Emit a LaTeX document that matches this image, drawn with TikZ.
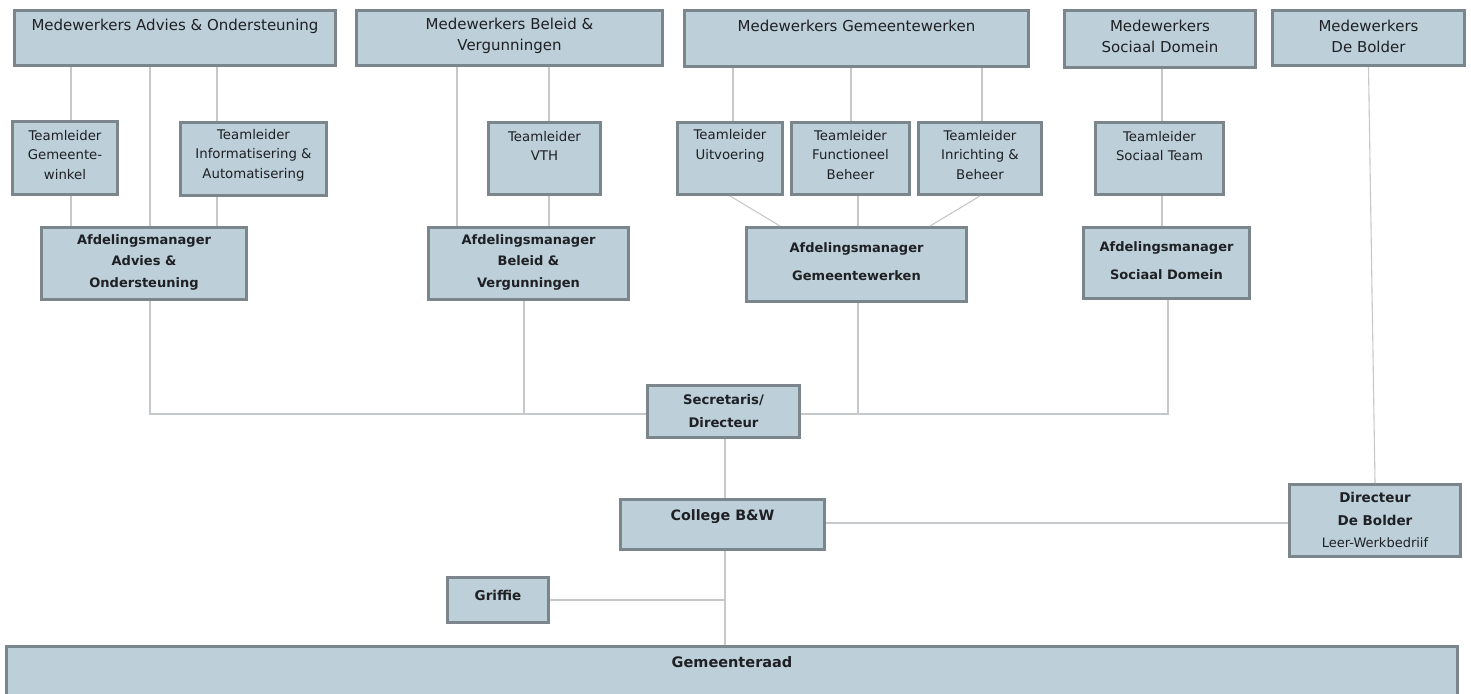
\documentclass[tikz,border=0pt]{standalone}
\usepackage{fontspec}
\setmainfont{DejaVu Sans}

\definecolor{boxfill}{RGB}{189,207,216}
\definecolor{boxedge}{RGB}{122,134,140}
\definecolor{linkgrey}{RGB}{198,201,204}
\definecolor{ink}{RGB}{30,32,36}

\tikzset{
  orgbox/.style={draw=boxedge, line width=2.8pt, fill=boxfill, rectangle, inner sep=0pt},
  lbl/.style={align=center, text=ink, inner sep=0pt},
  hdr/.style={lbl, font=\fontsize{15}{21}\selectfont},
  team/.style={lbl, font=\fontsize{13.3}{19.5}\selectfont},
  mgr/.style={lbl, font=\bfseries\fontsize{13}{21.5}\selectfont},
  mgrwide/.style={lbl, font=\bfseries\fontsize{13}{28}\selectfont},
  top/.style={lbl, font=\bfseries\fontsize{13.2}{23}\selectfont},
  link/.style={draw=linkgrey, line width=1.1pt},
}

% #1 name, #2-#5 outer corners (x1,y1,x2,y2), #6 text centre y, #7 text style, #8 text
\newcommand\placebox[8]{%
  \node[orgbox, minimum width={(#4-#2-2.8)*1pt}, minimum height={(#5-#3-2.8)*1pt}]
    (#1) at ({(#2+#4)/2},{(#3+#5)/2}) {};
  \node[#7] (#1-txt) at ({(#2+#4)/2},#6) {#8};
}

\begin{document}
\begin{tikzpicture}[x=1pt, y=-1pt]
\clip (0,0) rectangle (1471,693);
\fill[white] (0,0) rectangle (1471,693);

% ---- staff departments
\placebox{mao}{13}{9}{337}{67}{26}{hdr}{Medewerkers Advies \& Ondersteuning}
\placebox{mbv}{355}{9}{664}{67}{36}{hdr}{Medewerkers Beleid \&\\Vergunningen}
\placebox{mgw}{683}{9}{1030}{68}{26}{hdr}{Medewerkers Gemeentewerken}
\placebox{msd}{1063}{9}{1257}{69}{36}{hdr}{Medewerkers\\Sociaal Domein}
\placebox{mdb}{1271}{9}{1466}{67}{36}{hdr}{Medewerkers\\De Bolder}

% ---- team leaders
\placebox{tgw}{11}{120}{119}{196}{155}{team}{Teamleider\\Gemeente-\\winkel}
\placebox{tia}{179}{121}{328}{197}{155}{team}{Teamleider\\Informatisering \&\\Automatisering}
\placebox{tvth}{487}{121}{602}{196}{146}{team}{Teamleider\\VTH}
\placebox{tu}{676}{121}{784}{196}{146}{team}{Teamleider\\Uitvoering}
\placebox{tfb}{790}{121}{911}{196}{155}{team}{Teamleider\\Functioneel\\Beheer}
\placebox{tib}{917}{121}{1043}{196}{155}{team}{Teamleider\\Inrichting \&\\Beheer}
\placebox{tst}{1094}{121}{1225}{196}{146}{team}{Teamleider\\Sociaal Team}

% ---- department managers
\placebox{aao}{40}{226}{248}{301}{262}{mgr}{Afdelingsmanager\\Advies \&\\Ondersteuning}
\placebox{abv}{427}{226}{630}{301}{262}{mgr}{Afdelingsmanager\\Beleid \&\\Vergunningen}
\placebox{agw}{745}{226}{968}{303}{262}{mgrwide}{Afdelingsmanager\\Gemeentewerken}
\placebox{asd}{1082}{226}{1251}{300}{261}{mgrwide}{Afdelingsmanager\\Sociaal Domein}

% ---- board level
\placebox{sec}{646}{384}{801}{439}{411}{top}{Secretaris/\\Directeur}
\placebox{col}{619}{498}{826}{551}{517}{lbl, font=\bfseries\fontsize{14.3}{20}\selectfont}{College B\&W}
\placebox{grf}{446}{576}{550}{624}{595}{lbl, font=\bfseries\fontsize{13.5}{20}\selectfont}{Griffie}
\placebox{dir}{1288}{483}{1462}{558}{520}{lbl, font=\bfseries\fontsize{13.5}{22.5}\selectfont}{Directeur\\De Bolder\\{\mdseries\fontsize{13}{22.5}\selectfont Leer-Werkbedriif}}
\placebox{gem}{5}{645}{1459}{705}{662}{lbl, font=\bfseries\fontsize{14.5}{20}\selectfont}{Gemeenteraad}

% ---- x positions of the vertical connectors
\coordinate (xa) at (71,0);
\coordinate (xb) at (150,0);
\coordinate (xc) at (217,0);
\coordinate (xd) at (457,0);
\coordinate (xe) at (549,0);
\coordinate (xf) at (524,0);
\coordinate (xg) at (733,0);
\coordinate (xh) at (780,0);
\coordinate (xi) at (851,0);
\coordinate (xj) at (858,0);
\coordinate (xk) at (982,0);
\coordinate (xl) at (930,0);
\coordinate (xm) at (1162,0);
\coordinate (xn) at (1168,0);
\coordinate (xo) at (725,0);
\coordinate (bus) at (0,414);
\coordinate (yr) at (0,523);

% ---- Advies & Ondersteuning
\draw[link] (mao.south -| xa) -- (tgw.north -| xa);
\draw[link] (tgw.south -| xa) -- (aao.north -| xa);
\draw[link] (mao.south -| xb) -- (aao.north -| xb);
\draw[link] (mao.south -| xc) -- (tia.north -| xc);
\draw[link] (tia.south -| xc) -- (aao.north -| xc);

% ---- Beleid & Vergunningen
\draw[link] (mbv.south -| xd) -- (abv.north -| xd);
\draw[link] (mbv.south -| xe) -- (tvth.north -| xe);
\draw[link] (tvth.south -| xe) -- (abv.north -| xe);

% ---- Gemeentewerken
\draw[link] (mgw.south -| xg) -- (tu.north -| xg);
\draw[link] (tu.south) -- (agw.north -| xh);
\draw[link] (mgw.south -| xi) -- (tfb.north -| xi);
\draw[link] (tfb.south -| xj) -- (agw.north -| xj);
\draw[link] (mgw.south -| xk) -- (tib.north -| xk);
\draw[link] (tib.south) -- (agw.north -| xl);

% ---- Sociaal Domein and De Bolder
\draw[link] (msd.south -| xm) -- (tst.north -| xm);
\draw[link] (tst.south -| xm) -- (asd.north -| xm);
\draw[link] (mdb.south) -- (dir.north);

% ---- managers to the secretary
\draw[link] (aao.south -| xb) -- (xb |- bus) -- (sec.west |- bus);
\draw[link] (abv.south -| xf) -- (xf |- bus);
\draw[link] (sec.east |- bus) -- (xn |- bus) -- (asd.south -| xn);
\draw[link] (agw.south -| xj) -- (xj |- bus);

% ---- board and council
\draw[link] (sec.south -| xo) -- (col.north -| xo);
\draw[link] (col.south -| xo) -- (gem.north -| xo);
\draw[link] (grf.east) -- (grf.east -| xo);
\draw[link] (col.east |- yr) -- (dir.west |- yr);
\end{tikzpicture}
\end{document}
